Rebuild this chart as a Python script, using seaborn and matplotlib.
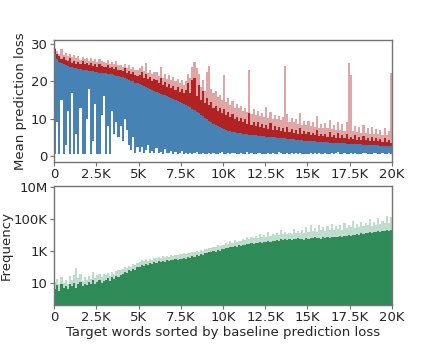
import numpy as np
import matplotlib
matplotlib.use("Agg")
import matplotlib.pyplot as plt
import seaborn as sns

# ── data: 160 bins of 125 target words (sorted by baseline loss) ──
bin_width = 125

# smooth upper edge of the blue area
blue_top = [
    27.5, 26.0, 25.3, 24.9, 24.6, 24.4, 24.2, 24.0,
    23.8, 23.6, 23.5, 23.4, 23.3, 23.2, 23.1, 23.0,
    22.9, 22.8, 22.7, 22.6, 22.5, 22.4, 22.4, 22.3,
    22.2, 22.1, 22.0, 21.9, 21.8, 21.6, 21.5, 21.3,
    21.1, 20.9, 20.7, 20.5, 20.2, 20.0, 19.7, 19.5,
    19.2, 19.0, 18.7, 18.5, 18.2, 18.0, 17.7, 17.5,
    17.2, 17.0, 16.7, 16.5, 16.3, 16.0, 15.8, 15.6,
    15.3, 15.1, 14.8, 14.6, 14.3, 14.0, 13.7, 13.4,
    13.1, 12.7, 12.3, 11.9, 11.5, 11.1, 10.7, 10.3,
    9.9, 9.5, 9.1, 8.7, 8.3, 8.0, 7.7, 7.4,
    7.2, 7.0, 6.8, 6.7, 6.5, 6.4, 6.3, 6.2,
    6.1, 6.0, 5.9, 5.8, 5.7, 5.65, 5.6, 5.5,
    5.45, 5.4, 5.3, 5.25, 5.2, 5.15, 5.1, 5.05,
    5.0, 4.9, 4.85, 4.8, 4.75, 4.7, 4.6, 4.55,
    4.5, 4.45, 4.4, 4.3, 4.25, 4.2, 4.15, 4.1,
    4.05, 4.0, 3.95, 3.9, 3.85, 3.8, 3.78, 3.75,
    3.7, 3.65, 3.6, 3.58, 3.55, 3.5, 3.48, 3.45,
    3.4, 3.38, 3.35, 3.3, 3.28, 3.25, 3.2, 3.18,
    3.15, 3.1, 3.08, 3.05, 3.0, 2.98, 2.95, 2.9,
    2.88, 2.85, 2.8, 2.78, 2.75, 2.7, 2.68, 2.65,
]

# lower edge of the blue area
blue_low = [
    0.4, 9, 0.5, 15, 0.6, 3, 12, 0.5,
    17, 0.4, 6, 0.5, 13, 0.6, 0.4, 10,
    18, 0.5, 4, 14, 0.6, 0.5, 11, 16,
    0.4, 8, 0.5, 12, 6, 9, 5, 8,
    4, 10, 7, 3, 1.5, 5, 0.8, 2.5,
    1.2, 2.5, 0.8, 1.6, 3.0, 0.9, 1.4, 0.7,
    2.2, 0.8, 1.1, 0.6, 1.8, 0.9, 0.7, 1.3,
    0.6, 1.0, 0.5, 0.8, 1.4, 0.6, 0.7, 0.5,
    0.9, 0.5, 0.7, 1.1, 0.6, 0.5, 0.8, 0.6,
    0.5, 0.7, 0.4, 0.9, 0.6, 0.5, 0.7, 1.0,
    0.6, 0.4, 0.8, 0.5, 0.7, 0.9, 0.5, 0.6,
    0.8, 0.5, 0.6, 1.0, 0.4, 0.7, 0.6, 0.5,
    0.7, 0.9, 0.5, 0.6, 0.4, 0.8, 0.6, 0.7,
    0.5, 0.6, 1.0, 0.7, 0.5, 0.4, 0.8, 0.6,
    0.9, 0.5, 0.7, 0.6, 0.8, 0.5, 0.6, 0.4,
    0.6, 0.8, 0.5, 0.7, 0.4, 0.9, 0.6, 0.5,
    0.7, 0.5, 0.6, 0.8, 0.5, 0.7, 1.0, 0.6,
    0.5, 0.8, 0.6, 0.4, 0.7, 0.5, 0.9, 0.6,
    0.6, 0.5, 0.8, 0.7, 0.5, 0.6, 0.4, 0.8,
    0.7, 0.6, 0.5, 0.9, 0.6, 0.5, 0.7, 0.6,
]

# dense red body
red_top = [
    28.6, 27.4, 26.8, 26.1, 26.5, 25.8, 25.6, 26.2,
    25.0, 25.6, 24.8, 25.3, 24.6, 25.4, 24.7, 24.9,
    24.3, 25.0, 24.1, 24.6, 23.9, 24.8, 24.2, 24.0,
    23.8, 24.4, 23.5, 24.0, 23.4, 23.9, 23.2, 23.0,
    22.8, 23.5, 22.4, 22.9, 22.0, 22.6, 21.7, 21.5,
    21.8, 22.5, 21.0, 21.9, 20.6, 21.3, 20.2, 20.8,
    20.4, 19.5, 20.9, 19.0, 19.8, 18.6, 19.4, 18.3,
    18.9, 17.8, 18.5, 17.2, 18.0, 16.9, 17.6, 19.5,
    17.0, 20.5, 21.0, 16.2, 19.0, 15.0, 17.5, 14.2,
    15.5, 13.8, 14.6, 12.9, 13.5, 12.0, 12.8, 11.5,
    12.5, 11.0, 11.8, 10.4, 11.2, 9.8, 10.6, 9.5,
    10.2, 9.1, 9.8, 8.7, 11.5, 8.4, 9.2, 8.0,
    9.0, 7.8, 8.6, 7.5, 8.2, 7.2, 8.8, 7.0,
    8.0, 7.1, 7.7, 6.8, 7.4, 6.5, 7.9, 6.4,
    7.2, 6.3, 6.9, 6.0, 7.5, 5.9, 6.6, 5.8,
    6.5, 5.7, 6.2, 5.5, 7.0, 5.4, 6.0, 5.3,
    5.9, 5.2, 6.4, 5.0, 5.7, 4.9, 6.1, 4.8,
    5.5, 4.7, 5.8, 4.6, 5.2, 4.5, 5.6, 4.4,
    5.0, 4.3, 5.4, 4.2, 4.8, 4.1, 5.1, 4.0,
    4.7, 3.9, 4.5, 3.8, 4.9, 3.7, 4.3, 3.6,
]

# faint red peaks
red_peak = [
    29.0, 28.2, 27.5, 28.8, 27.0, 27.6, 26.8, 27.3,
    26.5, 27.2, 26.2, 26.9, 25.8, 26.6, 26.0, 26.4,
    25.6, 26.3, 25.4, 26.0, 25.2, 26.1, 25.5, 25.3,
    25.0, 25.8, 24.7, 25.3, 24.6, 25.5, 24.4, 24.3,
    24.0, 24.8, 23.6, 24.3, 23.3, 24.0, 23.1, 23.0,
    23.5, 24.2, 22.8, 25.0, 22.4, 23.2, 22.0, 22.6,
    22.5, 21.5, 23.8, 21.0, 22.0, 20.8, 21.8, 20.5,
    21.2, 20.0, 20.8, 19.5, 20.3, 19.0, 20.0, 22.0,
    21.0, 24.0, 25.2, 23.5, 22.0, 18.5, 20.5, 17.5,
    22.5, 24.2, 18.0, 17.0, 17.5, 15.8, 16.5, 15.0,
    21.8, 14.5, 15.5, 13.8, 14.8, 13.0, 14.0, 12.8,
    13.5, 12.2, 13.0, 11.8, 23.1, 11.4, 12.5, 11.0,
    12.0, 10.8, 11.6, 10.5, 13.2, 10.2, 11.8, 10.0,
    11.0, 10.0, 10.8, 9.6, 10.4, 24.2, 11.2, 9.2,
    10.2, 9.0, 9.8, 8.6, 11.5, 8.4, 9.4, 8.2,
    9.5, 8.0, 9.0, 7.8, 10.8, 7.6, 8.6, 7.5,
    8.8, 7.4, 9.6, 7.2, 8.2, 7.0, 9.0, 6.9,
    8.5, 6.8, 9.2, 24.9, 21.8, 6.6, 8.0, 6.5,
    7.8, 6.3, 8.4, 6.2, 7.5, 6.0, 7.9, 5.9,
    7.2, 5.8, 6.9, 5.6, 7.6, 5.5, 6.6, 22.2,
]

# word frequency, dense part
freq = [
    4, 7, 3, 9, 5, 6, 4, 8,
    6, 10, 5, 8, 12, 6, 9, 7,
    11, 8, 14, 9, 12, 16, 10, 13,
    15, 20, 13, 24, 18, 28, 22, 32,
    35, 48, 40, 60, 52, 75, 66, 95,
    100, 130, 115, 150, 135, 170, 145, 190,
    180, 220, 195, 240, 210, 255, 230, 270,
    260, 300, 280, 330, 310, 360, 335, 390,
    380, 450, 420, 520, 480, 600, 560, 720,
    700, 850, 800, 1000, 920, 1150, 1050, 1300,
    1300, 1600, 1450, 1800, 1650, 2000, 1850, 2200,
    2100, 2500, 2300, 2800, 2600, 3000, 2750, 3200,
    3000, 3600, 3300, 3900, 3500, 4200, 3800, 4500,
    4200, 5000, 4500, 5400, 4800, 5700, 5100, 5600,
    5000, 6000, 5300, 6200, 5500, 5900, 5200, 6300,
    5800, 6800, 6100, 7000, 6400, 6700, 6000, 7200,
    6600, 7600, 6900, 8000, 7200, 7800, 7000, 8300,
    7800, 9000, 8400, 9600, 9000, 10200, 9500, 11000,
    10500, 12500, 11500, 13500, 12500, 14500, 13500, 16000,
    15000, 17500, 16000, 18500, 17000, 19500, 18000, 20000,
]

# word frequency, faint peaks
freq_peak = [
    12, 18, 8, 22, 10, 14, 9, 25,
    15, 30, 90, 20, 35, 13, 24, 16,
    28, 18, 45, 20, 30, 38, 22, 35,
    30, 42, 28, 50, 36, 55, 60, 65,
    70, 95, 80, 120, 100, 150, 130, 180,
    200, 260, 220, 300, 250, 330, 280, 360,
    350, 420, 380, 460, 400, 480, 440, 520,
    500, 580, 540, 640, 600, 700, 650, 760,
    720, 860, 800, 980, 900, 1150, 1050, 1400,
    1300, 1600, 1500, 1900, 1750, 2200, 2000, 2500,
    2500, 3200, 2800, 4000, 3300, 5000, 3800, 4500,
    4200, 6000, 4800, 8000, 5500, 7000, 6200, 9000,
    6500, 12000, 7500, 10000, 8000, 15000, 9000, 11000,
    9500, 14000, 10500, 20000, 11000, 16000, 12000, 13000,
    11000, 25000, 12500, 18000, 13000, 22000, 14000, 30000,
    15000, 40000, 18000, 28000, 16000, 45000, 20000, 32000,
    18000, 35000, 22000, 50000, 20000, 38000, 24000, 42000,
    22000, 60000, 26000, 45000, 30000, 80000, 28000, 50000,
    30000, 70000, 35000, 55000, 40000, 100000, 38000, 65000,
    45000, 120000, 50000, 80000, 55000, 150000, 60000, 140000,
]

x_ticks = [0, 2500, 5000, 7500, 10000, 12500, 15000, 17500, 20000]
x_tick_labels = ["0", "2.5K", "5K", "7.5K", "10K", "12.5K", "15K", "17.5K", "20K"]
loss_ticks = [0, 10, 20, 30]
freq_ticks = [10, 1e3, 1e5, 1e7]
freq_tick_labels = ["10", "1K", "100K", "10M"]

# ── figure ──
sns.set_style("white")
plt.rcParams["font.family"] = ["DejaVu Sans"]
plt.rcParams["font.size"] = 9.5

x = np.arange(len(blue_top)) * bin_width
blue_top = np.array(blue_top)
blue_low = np.array(blue_low)
red_top = np.array(red_top)
red_peak = np.array(red_peak)

fig = plt.figure(figsize=(4.36, 3.49), dpi=100)
ax1 = fig.add_axes([0.124, 0.536, 0.775, 0.350])
ax2 = fig.add_axes([0.124, 0.126, 0.775, 0.341])

# red only shows above the blue area
ax1.bar(x, red_peak - blue_top, bottom=blue_top, width=bin_width, align="edge",
        color="firebrick", alpha=0.4, linewidth=0)
ax1.bar(x, red_top - blue_top, bottom=blue_top, width=bin_width, align="edge",
        color="firebrick", linewidth=0, antialiased=False)
ax1.bar(x, blue_top - blue_low, bottom=blue_low, width=bin_width, align="edge",
        color="steelblue", linewidth=0, antialiased=False)
ax1.set_xlim(0, 20000)
ax1.set_ylim(-1.6, 31.2)
ax1.set_yticks(loss_ticks)
ax1.set_xticks(x_ticks)
ax1.set_xticklabels(x_tick_labels)
ax1.set_ylabel("Mean prediction loss", labelpad=3)

ax2.bar(x, freq_peak, width=bin_width, align="edge", color="seagreen",
        alpha=0.3, linewidth=0)
ax2.bar(x, freq, width=bin_width, align="edge", color="seagreen",
        linewidth=0, antialiased=False)
ax2.set_yscale("log")
ax2.set_xlim(0, 20000)
ax2.set_ylim(0.4, 1.2e7)
ax2.set_yticks(freq_ticks)
ax2.set_yticklabels(freq_tick_labels)
ax2.minorticks_off()
ax2.set_xticks(x_ticks)
ax2.set_xticklabels(x_tick_labels)
ax2.set_ylabel("Frequency", labelpad=1)
ax2.set_xlabel("Target words sorted by baseline prediction loss", labelpad=1)

for ax in (ax1, ax2):
    for sp in ax.spines.values():
        sp.set_color("0.45")
        sp.set_linewidth(1.0)
    ax.tick_params(axis="both", which="major", length=3, width=0.8,
                   color="0.45", pad=1.5, labelsize=9.5,
                   bottom=True, left=True)

fig.savefig("out.png", dpi=100)
